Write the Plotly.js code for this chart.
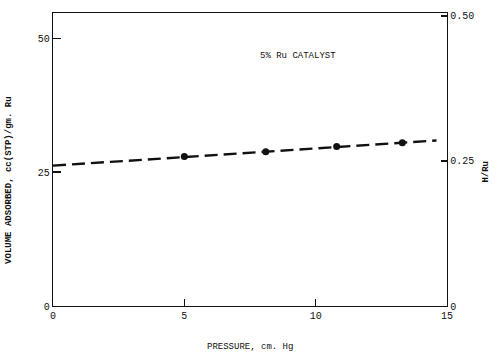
<!DOCTYPE html>
<html><head><meta charset="utf-8">
<script src="https://cdn.plot.ly/plotly-3.0.1.min.js"></script>
<style>html,body{margin:0;padding:0;background:#fff}#c{width:496px;height:355px}</style>
</head><body><div id="c"></div>
<script>
// measured points
const pressure = [5.0, 8.1, 10.8, 13.3];
const volume = [27.9, 28.8, 29.8, 30.5];
// fitted dashed line end points
const fitPressure = [0, 14.6];
const fitVolume = [26.2, 30.9];
const xTicks = [0, 5, 10, 15];
const yTicks = [0, 25, 50];
const hruTicks = [0, 0.25, 0.5];
const hruLabels = ['0', '0.25', '0.50'];
const note = '5% Ru CATALYST';
const xTitle = 'PRESSURE, cm. Hg';
const yTitle = 'VOLUME ADSORBED, cc(STP)/gm. Ru';
const y2Title = 'H/Ru';

const fam = 'Liberation Mono, DejaVu Sans Mono, monospace';
const font = {family: fam, size: 10, color: '#111'};
const small = {family: fam, size: 9, color: '#111'};

const traces = [
  {x: fitPressure, y: fitVolume, mode: 'lines', line: {color: '#111', width: 2.4, dash: '13px,6px'}, hoverinfo: 'skip', showlegend: false},
  {x: pressure, y: volume, mode: 'markers', marker: {color: '#111', size: 7}, showlegend: false},
  {x: [], y: [], yaxis: 'y2', showlegend: false}
];

const layout = {
  width: 496, height: 355,
  margin: {l: 53, r: 49, t: 13, b: 49},
  paper_bgcolor: '#fff', plot_bgcolor: '#fff',
  font: font,
  showlegend: false,
  xaxis: {
    range: [0, 15], tickvals: xTicks, ticks: 'inside', ticklen: 7, tickwidth: 1.3, tickcolor: '#111',
    showline: true, linecolor: '#111', linewidth: 1.3, mirror: true, showgrid: false, zeroline: false,
    tickfont: font
  },
  yaxis: {
    range: [0, 54.7], tickvals: yTicks, ticks: 'inside', ticklen: 8, tickwidth: 1.3, tickcolor: '#111',
    showline: true, linecolor: '#111', linewidth: 1.3, showgrid: false, zeroline: false,
    tickfont: font
  },
  yaxis2: {
    overlaying: 'y', side: 'right', range: [0, 0.505],
    tickvals: hruTicks, ticktext: hruLabels, ticks: 'inside', ticklen: 6, tickwidth: 1.3, tickcolor: '#111',
    showline: true, linecolor: '#111', linewidth: 1.3, showgrid: false, zeroline: false,
    tickfont: font
  },
  annotations: [
    {x: 7.8, y: 46.6, xref: 'x', yref: 'y', text: note, showarrow: false, xanchor: 'left', yanchor: 'middle', font: small},
    {x: 0.5, y: -0.14, xref: 'paper', yref: 'paper', text: xTitle, showarrow: false, xanchor: 'center', yanchor: 'middle', font: small},
    {x: -0.112, y: 0.43, xref: 'paper', yref: 'paper', text: '<b>' + yTitle + '</b>', textangle: -90, showarrow: false, xanchor: 'center', yanchor: 'middle', font: small},
    {x: 1.1, y: 0.46, xref: 'paper', yref: 'paper', text: '<b>' + y2Title + '</b>', textangle: -90, showarrow: false, xanchor: 'center', yanchor: 'middle', font: small}
  ]
};

Plotly.newPlot('c', traces, layout, {displayModeBar: false, staticPlot: true});
</script>
</body></html>
